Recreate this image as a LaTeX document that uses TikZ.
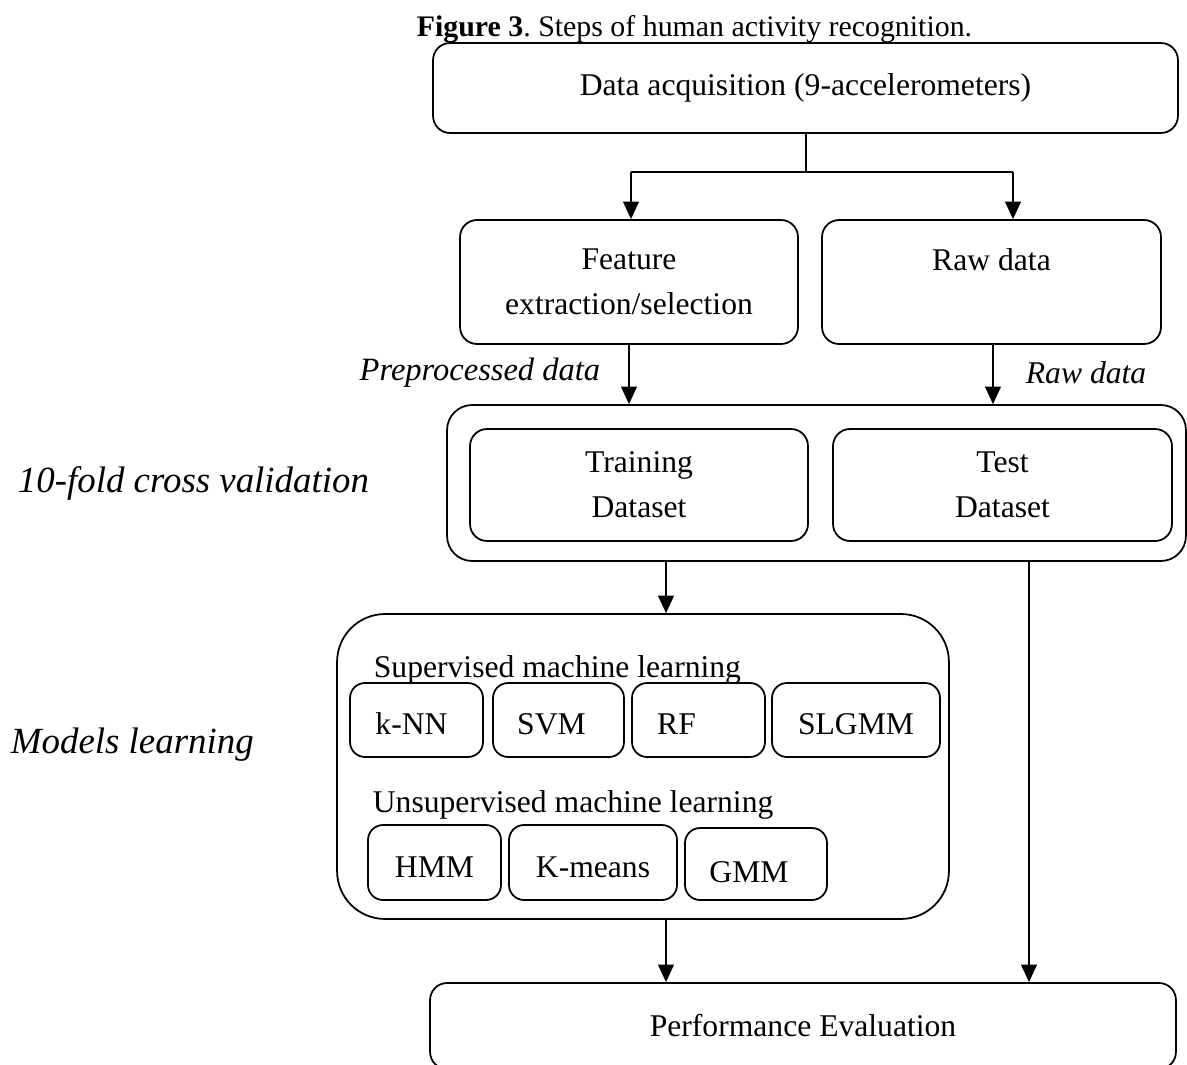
\documentclass[tikz,border=0pt]{standalone}
\usepackage{fontspec}
\setmainfont{Liberation Serif}
\usetikzlibrary{arrows.meta,calc}

\newcommand{\boxfont}{\fontsize{18pt}{25.5pt}\selectfont}
\newcommand{\capfont}{\fontsize{17pt}{20pt}\selectfont}
\newcommand{\sidefont}{\fontsize{21pt}{25pt}\selectfont\itshape}

\begin{document}
\begin{tikzpicture}[x=0.02cm,y=-0.02cm,line width=1pt,
    box/.style={draw,rounded corners=#1,inner sep=0pt,align=center,font=\boxfont},
    box/.default=0.34cm,
    algo/.style={box=0.3cm,minimum height=1.48cm,text height=17pt,text depth=0pt},
    txt/.style={inner sep=0pt,font=\boxfont},
    side/.style={inner sep=0pt,font=\sidefont,anchor=base west},
    arr/.style={-{Triangle[length=10pt,width=9pt]}}]
    \useasboundingbox (0,0) rectangle (1187,1065);

    % caption
    \node[inner sep=0pt,font=\capfont,anchor=base west] (cap) at (416,36) {\textbf{Figure 3}.\ Steps of human activity recognition.};

    % acquisition and preprocessing
    \node[box,minimum width=14.9cm,minimum height=1.8cm] (acq) at (805.5,88) {Data acquisition (9-accelerometers)};
    \node[box,minimum width=6.76cm,minimum height=2.48cm] (feat) at (629,282) {Feature\\extraction/selection};
    \node[box,minimum width=6.78cm,minimum height=2.48cm] (raw) at (991.5,282) {Raw data\\\mbox{}};

    \coordinate (fork) at (806,172);
    \coordinate (lft) at (631,172);
    \coordinate (rgt) at (1013,172);
    \draw (acq.south -| fork) -- (fork);
    \draw (lft) -- (rgt);
    \draw[arr] (lft) -- (lft |- feat.north);
    \draw[arr] (rgt) -- (rgt |- raw.north);

    % cross validation
    \node[box=0.5cm,minimum width=14.78cm,minimum height=3.12cm] (cv) at (816.5,483) {};
    \node[box,minimum width=6.76cm,minimum height=2.24cm] (trn) at (639,485) {Training\\Dataset};
    \node[box,minimum width=6.78cm,minimum height=2.24cm] (tst) at (1002.5,485) {Test\\Dataset};

    \coordinate (rawdrop) at (993,0);
    \draw[arr] (feat.south) -- (feat.south |- cv.north);
    \draw[arr] (raw.south -| rawdrop) -- (cv.north -| rawdrop);
    \node[txt,anchor=base east] (pre) at (601,380) {\fontsize{18.5pt}{20pt}\selectfont\itshape Preprocessed data};
    \node[txt,anchor=base west] (rawlbl) at (1025,383) {\itshape Raw data};
    \node[side] (cvlbl) at (17,492) {10-fold cross validation};

    % models
    \node[box=0.96cm,minimum width=12.24cm,minimum height=6.1cm] (models) at (643,766.5) {};
    \node[txt,anchor=base west] (sup) at (373,677) {Supervised machine learning};
    \node[algo,minimum width=2.66cm] (knn) at (416.5,720) {k-NN\hspace{0.2cm}};
    \node[algo,minimum width=2.62cm] (svm) at (558.5,720) {SVM\hspace{0.28cm}};
    \node[algo,minimum width=2.66cm] (rf) at (698.5,720) {RF\hspace{0.88cm}};
    \node[algo,minimum width=3.36cm] (slg) at (856,720) {SLGMM};
    \node[txt,anchor=base west] (unsup) at (372,812) {Unsupervised machine learning};
    \node[algo,minimum width=2.66cm,minimum height=1.5cm] (hmm) at (434.5,862.5) {HMM};
    \node[algo,minimum width=3.36cm,minimum height=1.5cm] (kmeans) at (593,862.5) {K-means};
    \node[algo,minimum width=2.84cm,minimum height=1.44cm] (gmm) at (756,864) {\raisebox{-2pt}{GMM}\hspace{0.28cm}};
    \node[side] (mlbl) at (10,753) {Models learning};

    % evaluation
    \node[box,minimum width=14.92cm,minimum height=1.72cm] (perf) at (803,1026) {Performance Evaluation};

    \coordinate (drop) at (666,0);
    \coordinate (bypass) at (1029,0);
    \draw[arr] (cv.south -| drop) -- (models.north -| drop);
    \draw[arr] (models.south -| drop) -- (perf.north -| drop);
    \draw[arr] (cv.south -| bypass) -- (perf.north -| bypass);
\end{tikzpicture}
\end{document}
